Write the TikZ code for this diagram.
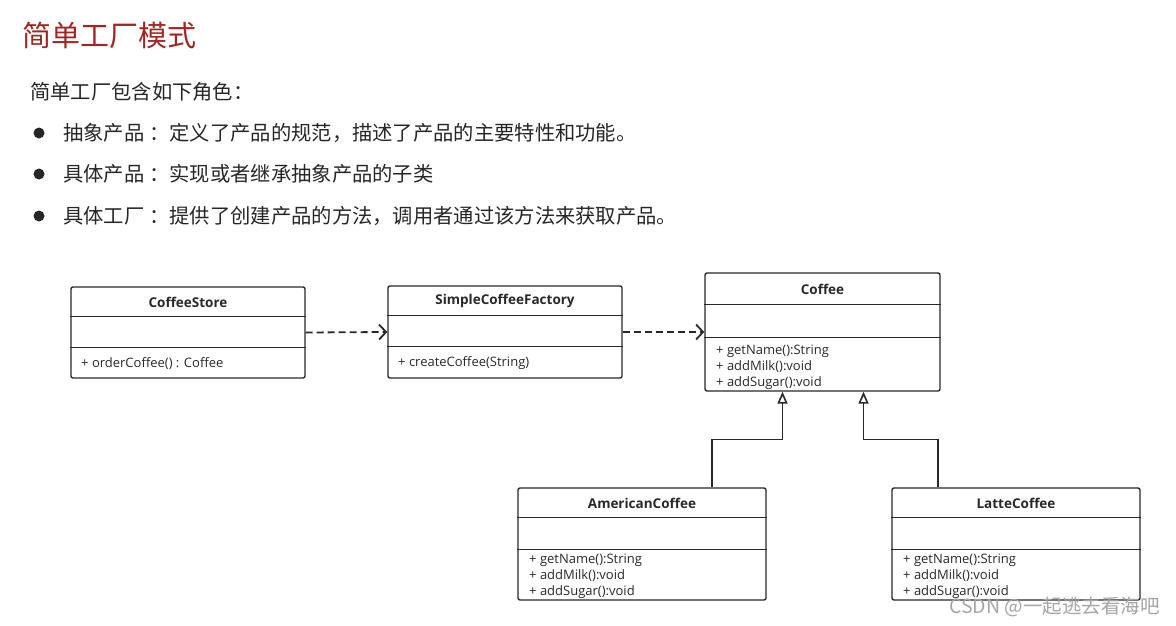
\documentclass[tikz,border=0pt]{standalone}
\usepackage{fontspec}
\usepackage{tikz}
\usetikzlibrary{arrows.meta}
\newfontfamily\cjk{Noto Sans CJK SC}
\newfontfamily\umlfont{Open Sans}
\definecolor{titlered}{RGB}{160,38,38}
\definecolor{inkgray}{RGB}{40,40,40}
\definecolor{markgray}{RGB}{165,165,165}

\begin{document}
\begin{tikzpicture}[x=1pt,y=-1pt,
  umlbox/.style={draw=inkgray,line width=1.4pt,rounded corners=2pt,inner sep=0pt},
  sepline/.style={draw=inkgray,line width=1.3pt},
  clsname/.style={font=\umlfont\bfseries\fontsize{13.5}{15}\selectfont,text=inkgray,inner sep=0pt},
  members/.style={anchor=west,align=left,font=\umlfont\fontsize{13}{16}\selectfont,text=inkgray,inner sep=0pt},
  bodytext/.style={anchor=west,inner sep=0pt,font=\cjk\fontsize{20.3}{22}\selectfont,text=black!85},
  dep/.style={draw=inkgray,line width=1.8pt,dash pattern=on 7pt off 4pt,-{Straight Barb[length=7pt,width=15pt]}},
  inherit/.style={draw=inkgray,line width=1.6pt,-{Triangle[open,length=12pt,width=10pt,fill=white]}}]
  \useasboundingbox (0,0) rectangle (1176,626);

  % Heading and roles
  \node[anchor=west,inner sep=0pt,font=\cjk\fontsize{29}{32}\selectfont,text=titlered] (title) at (22,35) {简单工厂模式};
  \node[bodytext] (intro) at (30,92) {简单工厂包含如下角色：};
  \foreach \y in {133,174,216} \fill[black!85] (39,\y) circle (5.5);
  \node[bodytext] (role1) at (63,133) {抽象产品\hspace{5pt}：定义了产品的规范，描述了产品的主要特性和功能。};
  \node[bodytext] (role2) at (63,174) {具体产品\hspace{5pt}：实现或者继承抽象产品的子类};
  \node[bodytext] (role3) at (63,216) {具体工厂\hspace{5pt}：提供了创建产品的方法，调用者通过该方法来获取产品。};

  % Classes
  \node[umlbox,minimum width=234pt,minimum height=91pt] (store) at (188,332.5) {};
  \draw[sepline] ([yshift=-30pt]store.north west) -- ([yshift=-30pt]store.north east);
  \draw[sepline] ([yshift=-61pt]store.north west) -- ([yshift=-61pt]store.north east);
  \node[clsname] (storename) at (188,302) {CoffeeStore};
  \node[members] (storeops) at (81,364) {+ orderCoffee() : Coffee};

  \node[umlbox,minimum width=234pt,minimum height=92pt] (factory) at (505,332) {};
  \draw[sepline] ([yshift=-30pt]factory.north west) -- ([yshift=-30pt]factory.north east);
  \draw[sepline] ([yshift=-61pt]factory.north west) -- ([yshift=-61pt]factory.north east);
  \node[clsname] (factoryname) at (505,301) {SimpleCoffeeFactory};
  \node[members] (factoryops) at (398,363) {+ createCoffee(String)};

  \node[umlbox,minimum width=235pt,minimum height=118pt] (coffee) at (822.5,332) {};
  \draw[sepline] ([yshift=-32pt]coffee.north west) -- ([yshift=-32pt]coffee.north east);
  \draw[sepline] ([yshift=-65pt]coffee.north west) -- ([yshift=-65pt]coffee.north east);
  \node[clsname] (coffeename) at (822.5,289) {Coffee};
  \node[members] (coffeeops) at (716,367) {+ getName():String\\+ addMilk():void\\+ addSugar():void};

  \node[umlbox,minimum width=248pt,minimum height=112pt] (american) at (642,544) {};
  \draw[sepline] ([yshift=-30pt]american.north west) -- ([yshift=-30pt]american.north east);
  \draw[sepline] ([yshift=-62pt]american.north west) -- ([yshift=-62pt]american.north east);
  \node[clsname] (americanname) at (642,503) {AmericanCoffee};
  \node[members] (americanops) at (529,576) {+ getName():String\\+ addMilk():void\\+ addSugar():void};

  \node[umlbox,minimum width=248pt,minimum height=112pt] (latte) at (1016,544) {};
  \draw[sepline] ([yshift=-30pt]latte.north west) -- ([yshift=-30pt]latte.north east);
  \draw[sepline] ([yshift=-62pt]latte.north west) -- ([yshift=-62pt]latte.north east);
  \node[clsname] (lattename) at (1016,503) {LatteCoffee};
  \node[members] (latteops) at (903,576) {+ getName():String\\+ addMilk():void\\+ addSugar():void};

  % Relations
  \draw[dep] (store.east) -- (factory.west);
  \draw[dep] (factory.east) -- (coffee.west);
  \draw[inherit] ([xshift=70pt]american.north) -- ++(0,-48) -| ([xshift=-40pt]coffee.south);
  \draw[inherit] ([xshift=-78pt]latte.north) -- ++(0,-48) -| ([xshift=41pt]coffee.south);

  % Watermark
  \node[anchor=east,inner sep=0pt,font=\cjk\fontsize{19.5}{22}\selectfont,text=markgray] (mark) at (1160,607) {CSDN @一起逃去看海吧};
\end{tikzpicture}
\end{document}
